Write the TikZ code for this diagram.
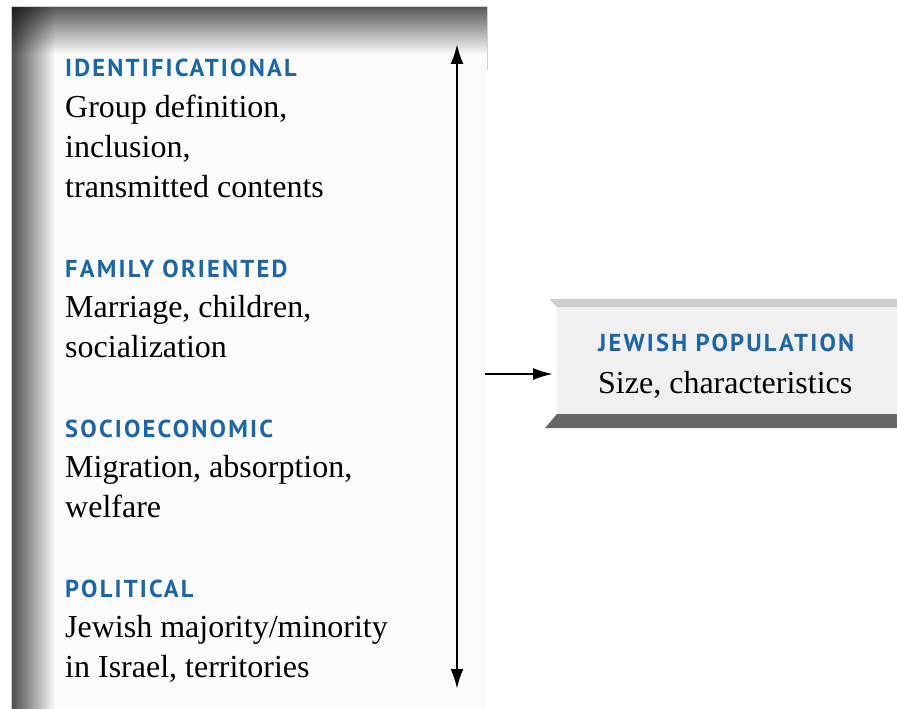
\documentclass[tikz,border=0pt]{standalone}
\usepackage{fontspec}
\setmainfont{Liberation Serif}
\newfontfamily\hdrfont[LetterSpace=9]{PT Sans}
\usetikzlibrary{arrows.meta}
\definecolor{hdrblue}{HTML}{1D66A3}
\definecolor{panelbg}{HTML}{FBFBFB}
\definecolor{boxbg}{HTML}{F0F0F0}
\definecolor{boxtop}{HTML}{CDCDCD}
\definecolor{boxbot}{HTML}{666666}
\tikzset{
  hdr/.style={anchor=base west, inner sep=0pt, text=hdrblue, font=\hdrfont\bfseries\fontsize{24.5}{28}\selectfont},
  body/.style={anchor=base west, inner sep=0pt, align=left, font=\fontsize{32}{40}\selectfont},
  arr/.style={line width=2.4pt, {Latex[length=20pt,width=13pt]}-{Latex[length=20pt,width=13pt]}},
  arrone/.style={line width=2.2pt, -{Latex[length=20pt,width=12pt]}}
}
\begin{document}
\begin{tikzpicture}[x=1pt,y=-1pt]
\useasboundingbox (0,0) rectangle (897,709);
% left panel
\fill[panelbg] (11,6) rectangle (487,709);
\foreach \i in {0,...,47} {
  \pgfmathsetmacro\op{0.66*(1-\i/48)}
  \fill[black, opacity=\op] (11,6+\i) rectangle (487,7+\i);
}
\foreach \i in {0,...,43} {
  \pgfmathsetmacro\op{0.70*(1-\i/44)}
  \fill[black, opacity=\op] (11+\i,6) rectangle (12+\i,709);
}
\draw[gray!35, line width=0.8pt] (11,709) -- (11,6) -- (487,6) -- (487,70);
% headers and bodies (body anchors at last line baseline)
\node[hdr] (h1) at (65,77) {IDENTIFICATIONAL};
\node[body] (b1) at (65,197) {Group definition,\\inclusion,\\transmitted contents};
\node[hdr] (h2) at (65,277) {FAMILY ORIENTED};
\node[body] (b2) at (65,357) {Marriage, children,\\socialization};
\node[hdr] (h3) at (65,437) {SOCIOECONOMIC};
\node[body] (b3) at (65,517) {Migration, absorption,\\welfare};
\node[hdr] (h4) at (65,597) {POLITICAL};
\node[body] (b4) at (65,677) {Jewish majority/minority\\in Israel, territories};
% vertical arrow
\coordinate (vtop) at (457,44);
\coordinate (vbot) at (457,689);
\draw[arr] (vtop) -- (vbot);
% right box
\fill[boxtop] (549,299) -- (897,299) -- (897,307) -- (557,307) -- cycle;
\fill[boxbg] (557,307) rectangle (897,414);
\fill[boxbot] (557,414) -- (897,414) -- (897,428) -- (545,428) -- cycle;
\coordinate (boxleft) at (553,374);
\node[hdr] (h5) at (598,351) {JEWISH POPULATION};
\node[body] (b5) at (598,393) {Size, characteristics};
% horizontal arrow
\coordinate (hstart) at (485,374);
\draw[arrone] (hstart) -- (boxleft);
\end{tikzpicture}
\end{document}
